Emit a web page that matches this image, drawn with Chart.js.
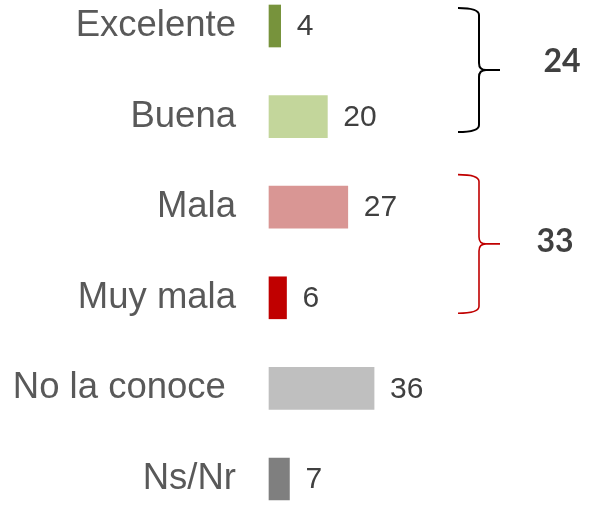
<!DOCTYPE html>
<html>
<head>
<meta charset="utf-8">
<script src="https://cdn.jsdelivr.net/npm/chart.js@4"></script>
<style>
  html, body { margin: 0; padding: 0; background: #fff; }
  #wrap { width: 590px; height: 506px; position: relative; }
</style>
</head>
<body>
<div id="wrap"><canvas id="chart"></canvas></div>
<script>
/* Opinion breakdown — horizontal bars with two grouping braces */

const categories = ['Excelente', 'Buena', 'Mala', 'Muy mala', 'No la conoce ', 'Ns/Nr'];
const values = [4, 20, 27, 6, 36, 7];
const barColors = ['#77933C', '#C3D69B', '#D99694', '#C00000', '#BFBFBF', '#7F7F7F'];

// groups summed by the braces (category indices)
const positiveGroup = [0, 1];
const negativeGroup = [2, 3];

const sumOf = idx => idx.reduce((s, i) => s + values[i], 0);

/* value label just right of each bar */
const valueLabels = {
    id: 'valueLabels',
    afterDatasetsDraw(chart) {
        const ctx = chart.ctx;
        const meta = chart.getDatasetMeta(0);
        ctx.save();
        ctx.font = '30px "Liberation Sans", Arial, sans-serif';
        ctx.fillStyle = '#404040';
        ctx.textAlign = 'left';
        ctx.textBaseline = 'middle';
        meta.data.forEach((bar, i) => {
            ctx.fillText(String(values[i]), bar.x + 16, bar.y + 1);
        });
        ctx.restore();
    }
};

/* curly braces with group totals */
const braces = {
    id: 'braces',
    afterDraw(chart, args, opts) {
        const ctx = chart.ctx;
        const y = chart.scales.y;
        const left = chart.chartArea.left;
        opts.items.forEach(b => {
            const yTop = y.getPixelForValue(b.from);
            const yBot = y.getPixelForValue(b.to);
            const yMid = (yTop + yBot) / 2;
            const xl = left + 189, xv = left + 210, xr = left + 231, r = 7;
            ctx.save();
            ctx.strokeStyle = b.color;
            ctx.lineWidth = b.width;
            ctx.beginPath();
            ctx.moveTo(xl, yTop);
            ctx.quadraticCurveTo(xv, yTop, xv, yTop + r);
            ctx.lineTo(xv, yMid - r);
            ctx.quadraticCurveTo(xv, yMid, xv + r, yMid);
            ctx.lineTo(xr, yMid);
            ctx.moveTo(xv + r, yMid);
            ctx.quadraticCurveTo(xv, yMid, xv, yMid + r);
            ctx.lineTo(xv, yBot - r);
            ctx.quadraticCurveTo(xv, yBot, xl, yBot);
            ctx.stroke();

            ctx.font = 'bold 32px Lato, "Open Sans", sans-serif';
            ctx.fillStyle = '#404040';
            ctx.textAlign = 'center';
            ctx.textBaseline = 'middle';
            ctx.fillText(String(b.total), left + b.labelDx, yMid + b.labelDy);
            ctx.restore();
        });
    }
};

new Chart(document.getElementById('chart'), {
    type: 'bar',
    data: {
        labels: categories,
        datasets: [{
            data: values,
            backgroundColor: barColors,
            borderWidth: 0,
            barThickness: 42,
            clip: false
        }]
    },
    options: {
        indexAxis: 'y',
        animation: false,
        responsive: true,
        maintainAspectRatio: false,
        layout: { padding: { top: 26, bottom: 27, left: 0, right: 0 } },
        scales: {
            x: { display: false, min: 0, max: 110 },
            y: {
                offset: false,
                grid: { display: false, drawTicks: false },
                border: { display: false },
                ticks: {
                    padding: 33,
                    color: '#595959',
                    font: { family: '"Liberation Sans", Arial, sans-serif', size: 36.5 }
                },
                afterFit(scale) {
                    scale.width = 269;
                    scale.paddingTop = 0;
                    scale.paddingBottom = 0;
                }
            }
        },
        plugins: {
            legend: { display: false },
            tooltip: { enabled: false },
            braces: {
                items: [
                    { from: -0.2, to: 1.17, color: '#000000', width: 2,
                      total: sumOf(positiveGroup), labelDx: 293, labelDy: -8 },
                    { from: 1.64, to: 3.17, color: '#C00000', width: 1.6,
                      total: sumOf(negativeGroup), labelDx: 286, labelDy: -2 }
                ]
            }
        }
    },
    plugins: [valueLabels, braces]
});
</script>
</body>
</html>
